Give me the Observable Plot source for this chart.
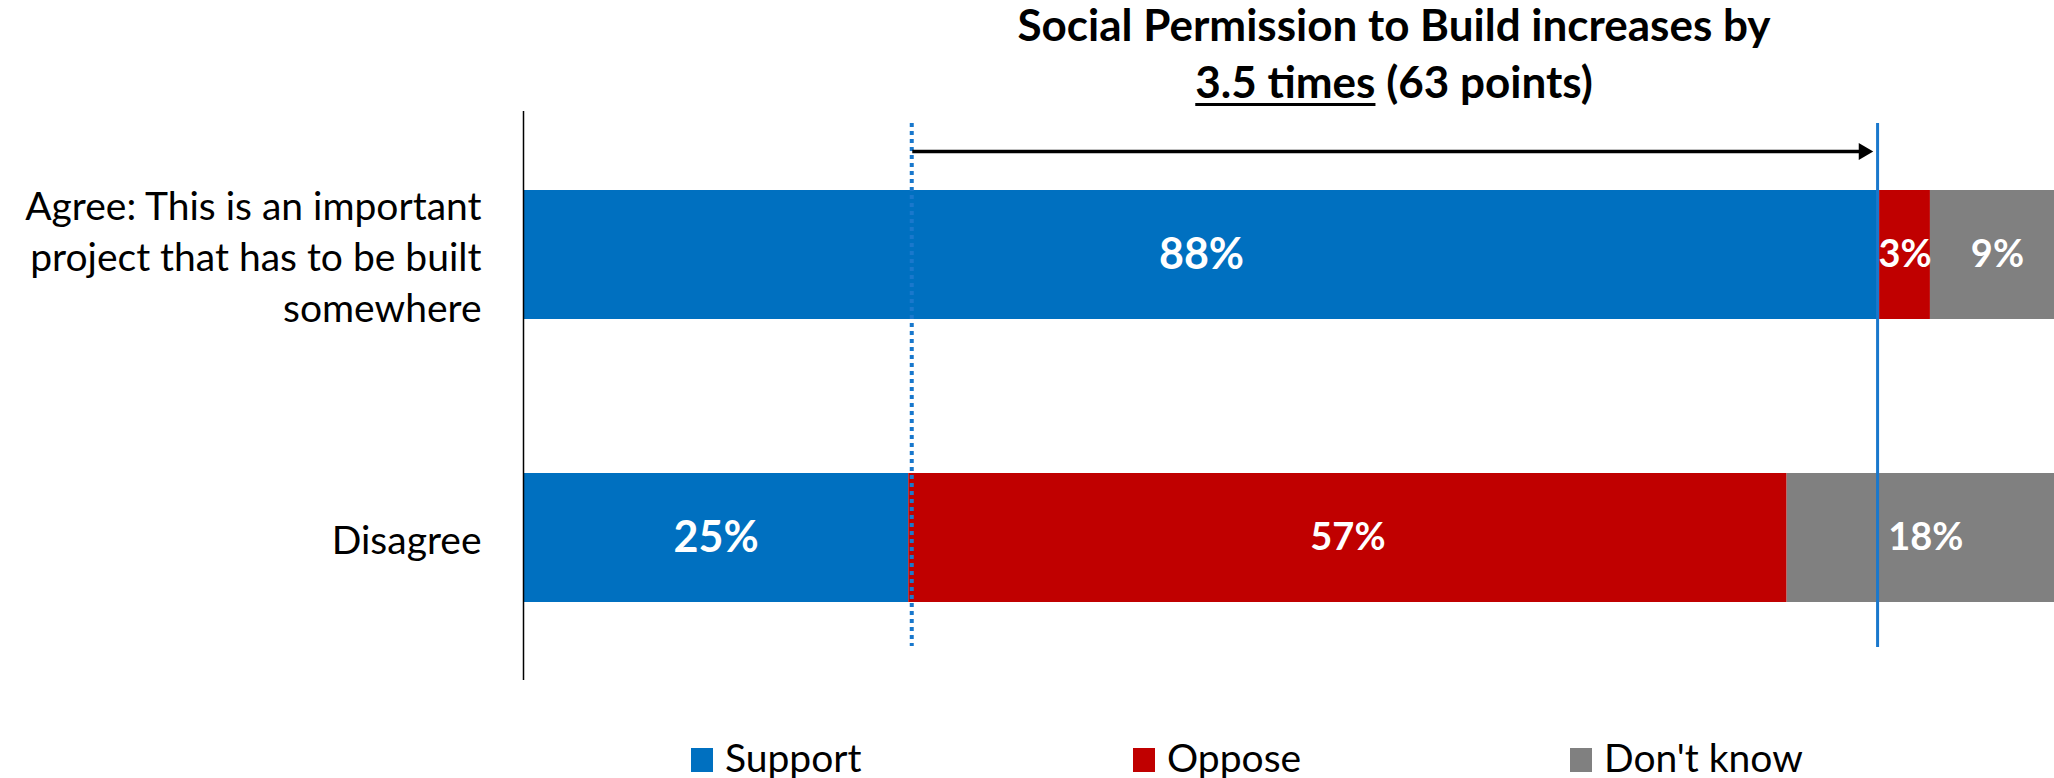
<!DOCTYPE html>
<html>
<head>
<meta charset="utf-8">
<script src="https://cdn.jsdelivr.net/npm/d3@7"></script>
<script src="https://cdn.jsdelivr.net/npm/@observablehq/plot@0.6"></script>
<style>
  html, body { margin: 0; padding: 0; background: #fff; overflow: hidden; }
  #wrap { position: relative; width: 2054px; height: 778px; font-family: Lato, "Open Sans", sans-serif; }
  #title { position: absolute; left: 1394px; top: -4px; transform: translateX(-50%); white-space: nowrap; z-index: 2;
           text-align: center; font-weight: bold; font-size: 44px; line-height: 57px; color: #000; }
  #title u { text-decoration-thickness: 3px; text-underline-offset: 5px; }
  #chart { position: absolute; left: 0; top: 100px; z-index: 1; }
  .lg { position: absolute; top: 735px; font-size: 39px; line-height: 44px; color: #000; white-space: nowrap; }
  .lg i { position: absolute; left: 0; top: 13px; width: 22px; height: 24px; }
  .lg span { position: absolute; left: 34px; top: 0; }
</style>
</head>
<body>
<div id="wrap">
  <div id="title">Social Permission to Build increases by<br><u>3.5 times</u> (63 points)</div>
  <div id="chart"></div>
  <div id="legend"></div>
</div>
<script>
const categories = ["Agree: This is an important\nproject that has to be built\nsomewhere", "Disagree"];
const series = ["Support", "Oppose", "Don't know"];
const support = [88, 25];
const oppose = [3.3, 57];
const dontKnow = [8.7, 18];
const colors = ["#0070C0", "#C00000", "#808080"];
const legendX = [691, 1133, 1570];

const seriesValues = [support, oppose, dontKnow];
const rows = [];
categories.forEach((c, ci) => {
  series.forEach((s, si) => rows.push({category: c, series: s, value: seriesValues[si][ci]}));
});
const pct = d => Math.round(d.value) + "%";

const plot = Plot.plot({
  width: 2054,
  height: 600,
  marginLeft: 523,
  marginRight: 0,
  marginTop: 11,
  marginBottom: 20,
  x: {domain: [0, 100], range: [523, 2064], axis: null},
  y: {domain: categories, paddingInner: 0.5458, paddingOuter: 0.2747, axis: null},
  color: {domain: series, range: colors},
  style: {fontFamily: "Lato, 'Open Sans', sans-serif", background: "transparent", overflow: "hidden"},
  marks: [
    Plot.barX(rows, Plot.stackX({x: "value", y: "category", fill: "series"})),
    Plot.text(rows, Plot.stackX({x: "value", y: "category",
      text: d => d.series === "Support" ? pct(d) : null,
      fill: "white", fontWeight: "bold", fontSize: 43})),
    Plot.text(rows, Plot.stackX({x: "value", y: "category",
      text: d => d.series !== "Support" ? pct(d) : null,
      fill: "white", fontWeight: "bold", fontSize: 38})),
    Plot.text(categories, {x: 0, y: d => d, text: d => d, textAnchor: "end", dx: -42,
      fontSize: 39, lineHeight: 1.31, fill: "black"}),
    Plot.ruleX([0], {stroke: "black", strokeWidth: 1.5}),
    Plot.ruleX([support[1]], {stroke: "#1A78CC", strokeWidth: 4, strokeDasharray: "4,4",
      dx: 3, insetTop: 12, insetBottom: 34}),
    Plot.ruleX([support[0]], {stroke: "#1A78CC", strokeWidth: 3, dx: -2, insetTop: 12, insetBottom: 33}),
    Plot.ruleY([categories[0]], {x1: support[1], x2: support[0], stroke: "black", strokeWidth: 3.5,
      dx: 4, dy: -103.5, insetRight: 18}),
    Plot.dot([categories[0]], {x: support[0], y: d => d, symbol: "triangle2", rotate: 90, r: 8,
      fill: "black", dx: -16, dy: -103.5})
  ]
});
document.getElementById("chart").appendChild(plot);

const legend = document.getElementById("legend");
series.forEach((s, i) => {
  const el = document.createElement("div");
  el.className = "lg";
  el.style.left = legendX[i] + "px";
  el.innerHTML = `<i style="background:${colors[i]}"></i><span>${s}</span>`;
  legend.appendChild(el);
});
</script>
</body>
</html>
